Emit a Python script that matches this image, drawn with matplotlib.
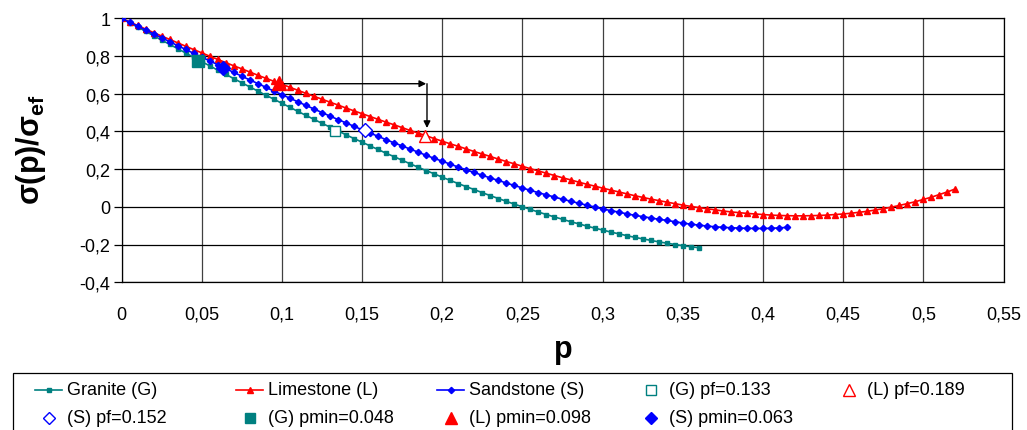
import numpy as np
import matplotlib
matplotlib.use('Agg')
import matplotlib.pyplot as plt
from matplotlib.lines import Line2D
from matplotlib.patches import Rectangle

plt.rcParams['font.family'] = ['Liberation Sans', 'DejaVu Sans']
plt.rcParams['mathtext.fontset'] = 'custom'
plt.rcParams['mathtext.rm'] = 'Liberation Sans'
plt.rcParams['mathtext.bf'] = 'Liberation Sans:bold'

W, H = 1027, 431

# sampling step of the curves (p)
p_step = 0.005

granite = [1.000, 0.977, 0.954, 0.931, 0.908, 0.884, 0.862, 0.839, 0.816, 0.793,
           0.770, 0.748, 0.725, 0.703, 0.680, 0.658, 0.636, 0.614, 0.592, 0.571,
           0.549, 0.528, 0.506, 0.485, 0.464, 0.443, 0.423, 0.403, 0.382, 0.362,
           0.343, 0.323, 0.304, 0.284, 0.266, 0.247, 0.228, 0.210, 0.192, 0.175,
           0.157, 0.140, 0.123, 0.107, 0.091, 0.075, 0.059, 0.044, 0.029, 0.014,
           0.000, -0.014, -0.028, -0.041, -0.054, -0.066, -0.079, -0.090, -0.102, -0.113,
           -0.123, -0.134, -0.143, -0.153, -0.162, -0.170, -0.178, -0.186, -0.193, -0.200,
           -0.206, -0.212, -0.217]

limestone = [1.000, 0.981, 0.962, 0.943, 0.924, 0.906, 0.888, 0.870, 0.852, 0.834,
             0.817, 0.799, 0.782, 0.765, 0.748, 0.732, 0.715, 0.698, 0.682, 0.666,
             0.650, 0.634, 0.618, 0.602, 0.586, 0.571, 0.555, 0.540, 0.524, 0.509,
             0.494, 0.479, 0.464, 0.449, 0.435, 0.420, 0.405, 0.391, 0.377, 0.362,
             0.348, 0.334, 0.321, 0.307, 0.293, 0.280, 0.267, 0.253, 0.240, 0.228,
             0.215, 0.202, 0.190, 0.178, 0.166, 0.154, 0.143, 0.131, 0.120, 0.110,
             0.099, 0.089, 0.079, 0.069, 0.059, 0.050, 0.041, 0.033, 0.025, 0.017,
             0.009, 0.002, -0.004, -0.010, -0.016, -0.022, -0.027, -0.031, -0.035, -0.038,
             -0.041, -0.044, -0.046, -0.047, -0.048, -0.048, -0.047, -0.046, -0.044, -0.041,
             -0.038, -0.034, -0.029, -0.024, -0.017, -0.010, -0.002, 0.007, 0.017, 0.027,
             0.039, 0.051, 0.065, 0.079, 0.095]

sandstone = [1.000, 0.979, 0.959, 0.938, 0.917, 0.897, 0.876, 0.855, 0.835, 0.814,
             0.794, 0.774, 0.754, 0.733, 0.713, 0.693, 0.673, 0.654, 0.634, 0.614,
             0.595, 0.576, 0.557, 0.538, 0.519, 0.500, 0.481, 0.463, 0.445, 0.427,
             0.409, 0.391, 0.374, 0.356, 0.339, 0.323, 0.306, 0.290, 0.273, 0.257,
             0.242, 0.226, 0.211, 0.196, 0.182, 0.167, 0.153, 0.140, 0.126, 0.113,
             0.100, 0.087, 0.075, 0.063, 0.052, 0.040, 0.030, 0.019, 0.009, -0.001,
             -0.011, -0.020, -0.028, -0.037, -0.045, -0.052, -0.059, -0.066, -0.072, -0.079,
             -0.086, -0.092, -0.097, -0.102, -0.106, -0.109, -0.111, -0.113, -0.114, -0.115,
             -0.115, -0.114, -0.112, -0.109]

p_granite = np.arange(len(granite)) * p_step
p_limestone = np.arange(len(limestone)) * p_step
p_sandstone = np.arange(len(sandstone)) * p_step

# failure points (pf) and minimum points (pmin): (p, sigma)
pf_G = (0.133, 0.403)
pf_L = (0.189, 0.375)
pf_S = (0.152, 0.405)
pmin_G = (0.048, 0.775)
pmin_L = (0.098, 0.655)
pmin_S = (0.063, 0.735)

xticks = [0, 0.05, 0.1, 0.15, 0.2, 0.25, 0.3, 0.35, 0.4, 0.45, 0.5, 0.55]
xtick_labels = ['0', '0,05', '0,1', '0,15', '0,2', '0,25', '0,3', '0,35', '0,4', '0,45', '0,5', '0,55']
yticks = [-0.4, -0.2, 0, 0.2, 0.4, 0.6, 0.8, 1]
ytick_labels = ['-0,4', '-0,2', '0', '0,2', '0,4', '0,6', '0,8', '1']

teal = '#008080'
red = '#FF0000'
blue = '#0000FF'

fig = plt.figure(figsize=(W / 100, H / 100), dpi=100)
ax = fig.add_axes([121.5 / W, 1 - 283.2 / H, 882 / W, 263.9 / H])

# grid
for x in xticks:
    ax.axvline(x, color='#404040', lw=0.9, zorder=1)
for y in yticks:
    ax.axhline(y, color='black', lw=0.9, zorder=1)

ax.plot(p_granite, granite, color=teal, lw=1.2, marker='s', ms=3, zorder=3)
ax.plot(p_limestone, limestone, color=red, lw=1.2, marker='^', ms=4.5, zorder=3)
ax.plot(p_sandstone, sandstone, color=blue, lw=1.2, marker='D', ms=3.2, zorder=3)

# arrows pmin(L) -> pf(L)
ax.annotate('', xy=(pf_L[0] + 0.001, pmin_L[1] - 0.002), xytext=(pmin_L[0] + 0.002, pmin_L[1] - 0.002),
            arrowprops=dict(arrowstyle='-|>', color='black', lw=1, mutation_scale=10,
                            shrinkA=0, shrinkB=0), zorder=4)
ax.annotate('', xy=(pf_L[0] + 0.0015, pf_L[1] + 0.043), xytext=(pf_L[0] + 0.0015, pmin_L[1] - 0.002),
            arrowprops=dict(arrowstyle='-|>', color='black', lw=1, mutation_scale=10,
                            shrinkA=0, shrinkB=0), zorder=4)

big = dict(linestyle='none', zorder=5)
ax.plot(*pf_G, marker='s', ms=7.5, mfc='white', mec=teal, mew=1, **big)
ax.plot(*pf_L, marker='^', ms=9, mfc='white', mec=red, mew=1, **big)
ax.plot(*pf_S, marker='D', ms=7, mfc='white', mec=blue, mew=1, **big)
ax.plot(*pmin_G, marker='s', ms=8.5, color=teal, **big)
ax.plot(*pmin_L, marker='^', ms=10, color=red, **big)
ax.plot(*pmin_S, marker='D', ms=7, color=blue, **big)

ax.set_xlim(0, 0.55)
ax.set_ylim(-0.4, 1)
ax.set_xticks(xticks)
ax.set_xticklabels(xtick_labels)
ax.set_yticks(yticks)
ax.set_yticklabels(ytick_labels)
ax.tick_params(axis='x', length=0, pad=17, labelsize=13)
ax.tick_params(axis='y', length=6, width=0.9, pad=2, labelsize=13, direction='out')
for s in ax.spines.values():
    s.set_color('black')
    s.set_linewidth(0.9)

fig.text(563 / W, 1 - 350 / H, 'p', fontsize=22, fontweight='bold', ha='center', va='center')
fig.text(31 / W, 1 - 150 / H, 'σ(p)/σ$_{\\mathbf{ef}}$', fontsize=22, fontweight='bold',
         rotation=90, ha='center', va='center')

# legend drawn like the Excel one: 5 equal columns, row-major
fig.patches.append(Rectangle((12.7 / W, -0.05), 999 / W, 0.05 + (1 - 374 / H),
                             transform=fig.transFigure, fill=False, ec='black', lw=0.9))
leg_entries = [
    ('Granite (G)', dict(color=teal, marker='s', ms=3), True),
    ('Limestone (L)', dict(color=red, marker='^', ms=4.5), True),
    ('Sandstone (S)', dict(color=blue, marker='D', ms=3.2), True),
    ('(G) pf=0.133', dict(marker='s', ms=7, mfc='white', mec=teal, mew=1), False),
    ('(L) pf=0.189', dict(marker='^', ms=8, mfc='white', mec=red, mew=1), False),
    ('(S) pf=0.152', dict(marker='D', ms=6, mfc='white', mec=blue, mew=1), False),
    ('(G) pmin=0.048', dict(marker='s', ms=7, color=teal), False),
    ('(L) pmin=0.098', dict(marker='^', ms=8, color=red), False),
    ('(S) pmin=0.063', dict(marker='D', ms=6, color=blue), False),
]
col_x = [35, 236, 437, 637, 835]
row_y = [391, 418.5]
for i, (label, style, has_line) in enumerate(leg_entries):
    x0 = col_x[i % 5]
    y0 = row_y[i // 5]
    yy = 1 - y0 / H
    if has_line:
        fig.lines.append(Line2D([x0 / W, (x0 + 27) / W], [yy, yy], transform=fig.transFigure,
                                color=style['color'], lw=1.2))
    fig.lines.append(Line2D([(x0 + 13.5) / W], [yy], transform=fig.transFigure, linestyle='none', **style))
    fig.text((x0 + 32) / W, yy, label, fontsize=13, ha='left', va='center')

fig.savefig('out.png', dpi=100, facecolor='white')
